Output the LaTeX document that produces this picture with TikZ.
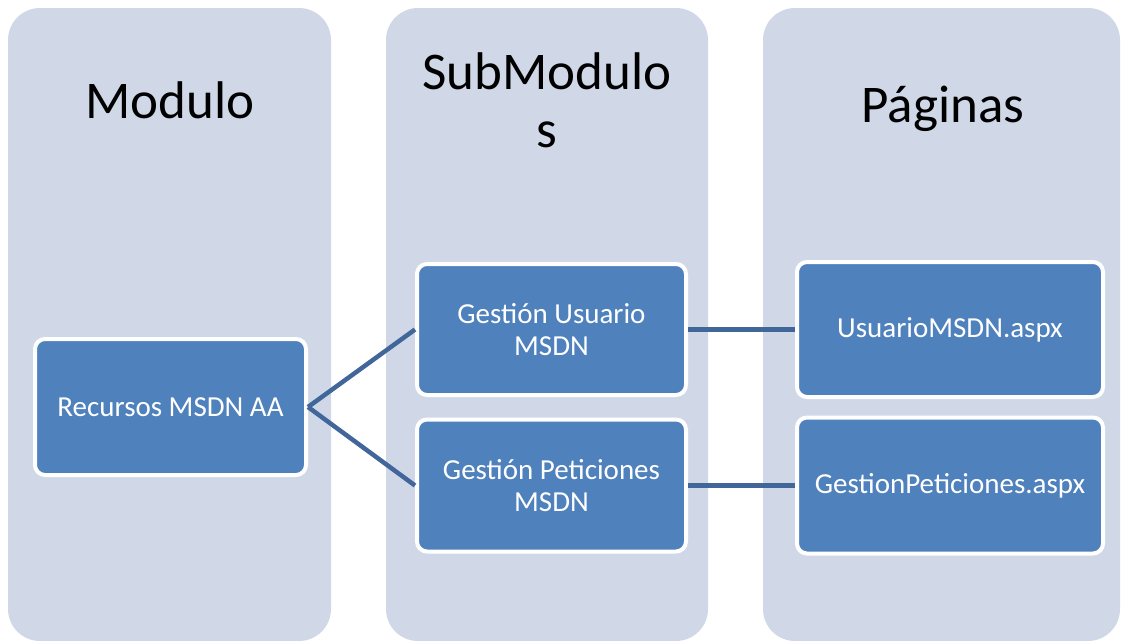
\documentclass[tikz,border=0pt]{standalone}
\usepackage{fontspec}
\setmainfont{Carlito}
\usetikzlibrary{positioning}
\definecolor{fondo}{HTML}{D0D8E8}
\definecolor{azul}{HTML}{4F81BD}
\definecolor{linea}{HTML}{41679A}
\tikzset{
  columna/.style={fill=fondo,rounded corners=32pt},
  titulo/.style={anchor=base,align=center,font=\fontsize{53}{58}\selectfont},
  caja/.style={draw=white,line width=4pt,fill=azul,rounded corners=10pt,
    text=white,align=center,inner sep=0pt,font=\fontsize{29}{32}\selectfont},
  enlace/.style={draw=linea,line width=4.5pt}
}

\begin{document}
\begin{tikzpicture}[x=1pt,y=-1pt]
\useasboundingbox (0,0) rectangle (1122,640);
% columnas
\fill[columna] (8,8) rectangle (331,641);
\fill[columna] (386,8) rectangle (708,641);
\fill[columna] (763,8) rectangle (1120,641);
\node[titulo] (tmod) at (170,118) {Modulo};
\node[titulo] (tsub) at (547,147) {SubModulo\\s};
\node[titulo] (tpag) at (943,122) {Páginas};
% cajas
\node[caja,minimum width=271pt,minimum height=136pt] (rec) at (170.5,407) {Recursos MSDN AA};
\node[caja,minimum width=269pt,minimum height=131pt] (gu) at (551.5,329.5) {Gestión Usuario\\MSDN};
\node[caja,minimum width=269pt,minimum height=132pt] (gp) at (551.5,485.5) {Gestión Peticiones\\MSDN};
\node[caja,minimum width=306pt,minimum height=135pt] (um) at (950,329.5) {UsuarioMSDN.aspx};
\node[caja,minimum width=306pt,minimum height=136pt] (gpa) at (950,485.5) {GestionPeticiones.aspx};
% enlaces
\draw[enlace] (rec.east) -- (gu.west);
\draw[enlace] (rec.east) -- (gp.west);
\draw[enlace] (gu.east) -- (um.west);
\draw[enlace] (gp.east) -- (gpa.west);
\end{tikzpicture}
\end{document}
